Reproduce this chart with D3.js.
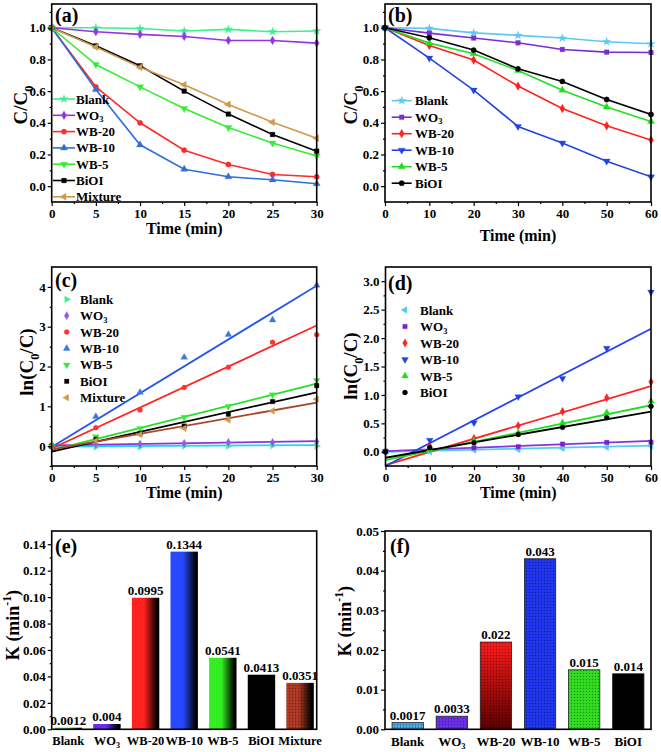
<!DOCTYPE html>
<html><head><meta charset="utf-8">
<script src="https://cdn.jsdelivr.net/npm/d3@7"></script>
<style>
body{margin:0;background:#fff}
text{font-family:"Liberation Serif","Times New Roman",serif;font-weight:bold;fill:#000}
</style>
</head><body>
<svg id="c" width="661" height="752"></svg>
<script>
// ---------- DATA ----------
const seriesAll = ["Blank","WO3","WB-20","WB-10","WB-5","BiOI","Mixture"];
const timeA = [0,5,10,15,20,25,30];
const timeB = [0,10,20,30,40,50,60];
// (a) C/C0 vs time
const a_Blank = [1.0,1.0,0.995,0.98,0.99,0.975,0.98];
const a_WO3   = [1.0,0.975,0.958,0.945,0.92,0.92,0.903];
const a_WB20  = [1.0,0.627,0.40,0.227,0.137,0.074,0.059];
const a_WB10  = [1.0,0.61,0.261,0.107,0.059,0.04,0.015];
const a_WB5   = [1.0,0.768,0.627,0.49,0.37,0.272,0.19];
const a_BiOI  = [1.0,0.886,0.76,0.60,0.455,0.326,0.221];
const a_Mix   = [1.0,0.878,0.75,0.64,0.516,0.404,0.303];
// (b) C/C0 vs time
const b_Blank = [1.0,0.996,0.968,0.952,0.935,0.912,0.899];
const b_WO3   = [1.0,0.966,0.935,0.905,0.863,0.846,0.844];
const b_WB20  = [1.0,0.888,0.796,0.632,0.49,0.381,0.291];
const b_WB10  = [1.0,0.808,0.606,0.377,0.272,0.158,0.059];
const b_WB5   = [1.0,0.903,0.836,0.73,0.606,0.50,0.408];
const b_BiOI  = [1.0,0.937,0.859,0.741,0.661,0.547,0.453];
// (c) ln(C0/C) points
const c_Blank = [0,-0.02,-0.02,0.0,0.0,0.01,0.0];
const c_WO3   = [0,0.05,0.05,0.067,0.093,0.093,0.11];
const c_WB20  = [0,0.463,0.91,1.47,1.98,2.61,2.80];
const c_WB10  = [0,0.74,1.35,2.23,2.80,3.17,4.04];
const c_WB5   = [0,0.236,0.446,0.724,0.994,1.29,1.65];
const c_BiOI  = [0,0.17,0.32,0.505,0.80,1.12,1.52];
const c_Mix   = [0,0.135,0.29,0.446,0.657,0.884,1.18];
// (c) linear fits: intercept, slope
const c_fitIntercept = [-0.01,0.02,-0.06,-0.02,-0.10,-0.14,-0.08];
const c_fitSlope     = [0.0012,0.0035,0.103,0.135,0.0557,0.0497,0.039];
// (d) ln(C0/C) points
const d_Blank = [0,0.0,0.03,0.04,0.06,0.08,0.10];
const d_WO3   = [0.01,0.04,0.07,0.09,0.135,0.165,0.17];
const d_WB20  = [0,0.10,0.235,0.46,0.71,0.95,1.23];
const d_WB10  = [0,0.205,0.51,0.97,1.29,1.82,2.81];
const d_WB5   = [0,0.03,0.19,0.335,0.51,0.69,0.89];
const d_BiOI  = [0,0.07,0.16,0.305,0.43,0.60,0.80];
const d_fitIntercept = [0.0,0.012,-0.235,-0.25,-0.147,-0.105];
const d_fitSlope     = [0.0018,0.003,0.0232,0.0402,0.0161,0.0135];
// (e),(f) rate constants
const e_cats = ["Blank","WO3","WB-20","WB-10","WB-5","BiOI","Mixture"];
const e_vals = [0.0012,0.004,0.0995,0.1344,0.0541,0.0413,0.0351];
const e_labels = ["0.0012","0.004","0.0995","0.1344","0.0541","0.0413","0.0351"];
const f_cats = ["Blank","WO3","WB-20","WB-10","WB-5","BiOI"];
const f_vals = [0.0017,0.0033,0.022,0.043,0.015,0.014];
const f_labels = ["0.0017","0.0033","0.022","0.043","0.015","0.014"];
// tick values
const ticksA_x = [0,5,10,15,20,25,30], ticksA_y = [0,0.2,0.4,0.6,0.8,1.0];
const ticksB_x = [0,10,20,30,40,50,60];
const ticksC_y = [0,1,2,3,4];
const ticksD_y = [0,0.5,1.0,1.5,2.0,2.5,3.0];
const ticksE_y = [0,0.02,0.04,0.06,0.08,0.10,0.12,0.14];
const ticksF_y = [0,0.01,0.02,0.03,0.04,0.05];

// ---------- HELPERS ----------
const svg = d3.select("#c");
svg.append("rect").attr("width",661).attr("height",752).attr("fill","#fff");
const defs = svg.append("defs");

function rich(t, parts, fs, subShift){
  const ss = subShift==null ? 0.3 : subShift;
  let shift = 0;
  parts.forEach(([s,k])=>{
    const sp = t.append("tspan").text(s);
    let target = k==="sub" ? fs*ss : k==="sup" ? -fs*0.42 : 0;
    sp.attr("dy", target - shift); shift = target;
    if (k!=="n") sp.attr("font-size", fs*0.65);
  });
}
function nameParts(n){ return n==="WO3" ? [["WO","n"],["3","sub"]] : [[n,"n"]]; }

const sym = {
  star: d3.symbolStar, diamond: d3.symbolDiamond, circle: d3.symbolCircle,
  tri: d3.symbolTriangle, square: d3.symbolSquare
};
function marker(g, cx, cy, s, color, size){
  g.append("path").attr("d", d3.symbol().type(sym[s.shape]).size(size)())
   .attr("transform",`translate(${cx},${cy}) rotate(${s.rot||0})`)
   .attr("fill", color).attr("stroke", color).attr("stroke-width",0.3);
}

function axes(g, x, y, o){
  const fs = 13;
  g.append("g").attr("transform",`translate(0,${o.b})`)
    .call(d3.axisBottom(x).tickValues(o.xt).tickSize(4).tickPadding(3).tickFormat(o.xf||d3.format("d")));
  if (o.xm) g.append("g").attr("transform",`translate(0,${o.b})`)
    .call(d3.axisBottom(x).tickValues(o.xm).tickSize(2).tickFormat(""));
  g.append("g").attr("transform",`translate(${o.l},0)`)
    .call(d3.axisLeft(y).tickValues(o.yt).tickSize(4).tickPadding(2).tickFormat(o.yf));
  if (o.ym) g.append("g").attr("transform",`translate(${o.l},0)`)
    .call(d3.axisLeft(y).tickValues(o.ym).tickSize(2).tickFormat(""));
  g.selectAll(".domain").remove();
  g.selectAll(".tick line").attr("stroke","#000").attr("stroke-width",1.2);
  g.selectAll(".tick text").attr("font-size",fs).attr("font-family",'"Liberation Serif",serif').attr("font-weight","bold");
  g.append("rect").attr("x",o.l).attr("y",o.t).attr("width",o.r-o.l).attr("height",o.b-o.t)
    .attr("fill","none").attr("stroke","#000").attr("stroke-width",1.6);
  g.append("text").attr("x",o.pl[0]).attr("y",o.pl[1]).attr("font-size",20).text(o.label);
  if (o.xTitle) g.append("text").attr("x",(o.l+o.r)/2).attr("y",o.xTitleY).attr("text-anchor","middle").attr("font-size",16).text(o.xTitle);
  const yt = g.append("text").attr("transform",`translate(${o.yTitleX},${o.yTitleY}) rotate(-90)`).attr("text-anchor","middle").attr("font-size",19);
  rich(yt, o.yTitle, 19);
}

function linePanel(o){
  const g = svg.append("g");
  const x = d3.scaleLinear().domain(o.xd).range([o.l,o.r]);
  const y = d3.scaleLinear().domain(o.yd).range([o.b,o.t]);
  const cid = "clip"+o.label.replace(/\W/g,"");
  defs.append("clipPath").attr("id",cid).append("rect").attr("x",o.l).attr("y",o.t).attr("width",o.r-o.l).attr("height",o.b-o.t);
  const pg = g.append("g").attr("clip-path",`url(#${cid})`);
  o.series.forEach(s=>{
    if (o.fit){
      const ln = d3.line().x(d=>x(d)).y(d=>y(s.b0 + s.b1*d));
      pg.append("path").attr("d", ln([o.xd[0], o.xd[1]])).attr("fill","none").attr("stroke",s.lc||s.c).attr("stroke-width",1.8);
    } else {
      const ln = d3.line().x((d,i)=>x(o.xs[i])).y(d=>y(d));
      pg.append("path").attr("d", ln(s.v)).attr("fill","none").attr("stroke",s.c).attr("stroke-width",1.6);
    }
  });
  o.series.forEach(s=>{
    s.v.forEach((v,i)=> marker(g, x(o.xs[i]), y(v), s, s.c, o.ms));
  });
  axes(g, x, y, o);
  o.series.forEach((s,i)=>{
    const ly = o.leg.y + i*o.leg.dy;
    if (!o.fit){
      g.append("line").attr("x1",o.leg.x1).attr("x2",o.leg.x2).attr("y1",ly).attr("y2",ly).attr("stroke",s.c).attr("stroke-width",1.6);
      marker(g,(o.leg.x1+o.leg.x2)/2, ly, s, s.c, o.ms);
    } else {
      marker(g, o.leg.mx, ly, s, s.c, o.ms);
    }
    const t = g.append("text").attr("x",o.leg.tx).attr("y",ly+4.5).attr("font-size",13);
    rich(t, nameParts(s.n), 13, 0.2);
  });
}

// ---------- PANELS a,b ----------
const f1 = d3.format(".1f");
linePanel({label:"(a)", pl:[55,22], l:51.7, r:316.7, t:4, b:202, xd:[0,30], yd:[-0.1,1.15],
  xs:timeA, xt:ticksA_x, xm:[2.5,7.5,12.5,17.5,22.5,27.5], yt:ticksA_y, ym:[0.1,0.3,0.5,0.7,0.9,1.1], yf:f1,
  xTitle:"Time (min)", xTitleY:234, yTitle:[["C/C","n"],["0","sub"]], yTitleX:27, yTitleY:105, ms:22,
  leg:{x1:53,x2:75,tx:76,y:99,dy:16.3},
  series:[
    {n:"Blank", v:a_Blank, c:"#3df08c", shape:"star"},
    {n:"WO3", v:a_WO3, c:"#9433ea", shape:"diamond"},
    {n:"WB-20", v:a_WB20, c:"#ff2a2a", shape:"circle"},
    {n:"WB-10", v:a_WB10, c:"#2f6fd6", shape:"tri"},
    {n:"WB-5", v:a_WB5, c:"#33ee33", shape:"tri", rot:180},
    {n:"BiOI", v:a_BiOI, c:"#000", shape:"square"},
    {n:"Mixture", v:a_Mix, c:"#cf9a4a", shape:"tri", rot:-90}
  ]});
linePanel({label:"(b)", pl:[388,22], l:385, r:651, t:4, b:202, xd:[0,60], yd:[-0.1,1.15],
  xs:timeB, xt:ticksB_x, xm:[5,15,25,35,45,55], yt:ticksA_y, ym:[0.1,0.3,0.5,0.7,0.9,1.1], yf:f1,
  xTitle:"Time (min)", xTitleY:241, yTitle:[["C/C","n"],["0","sub"]], yTitleX:357, yTitleY:105, ms:22,
  leg:{x1:391.7,x2:411.7,tx:415,y:100.7,dy:16.5},
  series:[
    {n:"Blank", v:b_Blank, c:"#5ec8f5", shape:"star"},
    {n:"WO3", v:b_WO3, c:"#7a2fd0", shape:"square"},
    {n:"WB-20", v:b_WB20, c:"#ff2020", shape:"diamond"},
    {n:"WB-10", v:b_WB10, c:"#2244e0", shape:"tri", rot:180},
    {n:"WB-5", v:b_WB5, c:"#22dd22", shape:"tri"},
    {n:"BiOI", v:b_BiOI, c:"#000", shape:"circle"}
  ]});

// ---------- PANELS c,d ----------
linePanel({label:"(c)", pl:[55,287], fit:true, l:51.7, r:316.7, t:267, b:466, xd:[0,30], yd:[-0.5,4.5],
  xs:timeA, xt:ticksA_x, xm:[2.5,7.5,12.5,17.5,22.5,27.5], yt:ticksC_y, ym:[-0.5,0.5,1.5,2.5,3.5], yf:d3.format("d"),
  xTitle:"Time (min)", xTitleY:498, yTitle:[["ln(C","n"],["0","sub"],["/C)","n"]], yTitleX:33, yTitleY:362, ms:20,
  leg:{mx:66.7,tx:80,y:299.3,dy:16.4},
  series:[
    {n:"Blank", v:c_Blank, c:"#3df08c", lc:"#1fd8f0", shape:"tri", rot:90, b0:c_fitIntercept[0], b1:c_fitSlope[0]},
    {n:"WO3", v:c_WO3, c:"#9a55ee", lc:"#8a33dd", shape:"diamond", b0:c_fitIntercept[1], b1:c_fitSlope[1]},
    {n:"WB-20", v:c_WB20, c:"#ff3333", lc:"#ff2222", shape:"circle", b0:c_fitIntercept[2], b1:c_fitSlope[2]},
    {n:"WB-10", v:c_WB10, c:"#3a78dd", lc:"#2255ee", shape:"tri", b0:c_fitIntercept[3], b1:c_fitSlope[3]},
    {n:"WB-5", v:c_WB5, c:"#33ee33", lc:"#22e022", shape:"tri", rot:180, b0:c_fitIntercept[4], b1:c_fitSlope[4]},
    {n:"BiOI", v:c_BiOI, c:"#000", lc:"#000", shape:"square", b0:c_fitIntercept[5], b1:c_fitSlope[5]},
    {n:"Mixture", v:c_Mix, c:"#cf9a4a", lc:"#a8462a", shape:"tri", rot:-90, b0:c_fitIntercept[6], b1:c_fitSlope[6]}
  ]});
linePanel({label:"(d)", pl:[388,290], fit:true, l:385.5, r:651, t:267, b:466, xd:[0,60], yd:[-0.25,3.25],
  xs:timeB, xt:ticksB_x, xm:[5,15,25,35,45,55], yt:ticksD_y, ym:[0.25,0.75,1.25,1.75,2.25,2.75], yf:f1,
  xTitle:"Time (min)", xTitleY:498, yTitle:[["ln(C","n"],["0","sub"],["/C)","n"]], yTitleX:357, yTitleY:366, ms:20,
  leg:{mx:405,tx:420,y:310,dy:16.5},
  series:[
    {n:"Blank", v:d_Blank, c:"#55c8f0", lc:"#55ccf5", shape:"tri", rot:-90, b0:d_fitIntercept[0], b1:d_fitSlope[0]},
    {n:"WO3", v:d_WO3, c:"#7722cc", lc:"#8833dd", shape:"square", b0:d_fitIntercept[1], b1:d_fitSlope[1]},
    {n:"WB-20", v:d_WB20, c:"#ff2222", lc:"#ff2222", shape:"diamond", b0:d_fitIntercept[2], b1:d_fitSlope[2]},
    {n:"WB-10", v:d_WB10, c:"#2244dd", lc:"#2244ee", shape:"tri", rot:180, b0:d_fitIntercept[3], b1:d_fitSlope[3]},
    {n:"WB-5", v:d_WB5, c:"#22dd22", lc:"#22dd22", shape:"tri", b0:d_fitIntercept[4], b1:d_fitSlope[4]},
    {n:"BiOI", v:d_BiOI, c:"#000", lc:"#000", shape:"circle", b0:d_fitIntercept[5], b1:d_fitSlope[5]}
  ]});

// ---------- BAR PANELS ----------
const pat = defs.append("pattern").attr("id","dots").attr("width",3).attr("height",3).attr("patternUnits","userSpaceOnUse");
pat.append("circle").attr("cx",1.5).attr("cy",1.5).attr("r",0.7).attr("fill","#000").attr("opacity",0.35);

function barPanel(o){
  const g = svg.append("g");
  const x = d3.scaleBand().domain(o.cats).range([o.l,o.r]).paddingInner(0.29).paddingOuter(o.po);
  const y = d3.scaleLinear().domain(o.yd).range([o.b,o.t]);
  o.cats.forEach((c,i)=>{
    const id = o.id+i;
    const gr = defs.append("linearGradient").attr("id",id);
    if (o.grad[i]==="v"){ gr.attr("x1",0).attr("x2",0).attr("y1",0).attr("y2",1); }
    o.stops[i].forEach(([off,col])=> gr.append("stop").attr("offset",off).attr("stop-color",col));
    const bx = x(c), bw = x.bandwidth(), by = y(o.vals[i]), bh = y(0)-y(o.vals[i]);
    g.append("rect").attr("x",bx).attr("y",by).attr("width",bw).attr("height",bh).attr("fill",`url(#${id})`);
    if (o.tex[i]) g.append("rect").attr("x",bx).attr("y",by).attr("width",bw).attr("height",bh).attr("fill","url(#dots)");
    if (o.border) g.append("rect").attr("x",bx).attr("y",by).attr("width",bw).attr("height",bh).attr("fill","none").attr("stroke","#222").attr("stroke-width",0.8);
    g.append("text").attr("x",bx+bw/2).attr("y",by-3).attr("text-anchor","middle").attr("font-size",13).text(o.labels[i]);
    const t = g.append("text").attr("x",bx+bw/2).attr("y",o.catY).attr("text-anchor","middle").attr("font-size",o.catFs);
    rich(t, nameParts(c), o.catFs, 0.25);
  });
  g.append("g").attr("transform",`translate(${o.l},0)`)
    .call(d3.axisLeft(y).tickValues(o.yt).tickSize(4).tickPadding(2).tickFormat(d3.format(".2f")));
  g.append("g").attr("transform",`translate(${o.l},0)`)
    .call(d3.axisLeft(y).tickValues(o.ym).tickSize(2).tickFormat(""));
  g.selectAll(".domain").remove();
  g.selectAll(".tick line").attr("stroke","#000").attr("stroke-width",1.2);
  g.selectAll(".tick text").attr("font-size",13).attr("font-family",'"Liberation Serif",serif').attr("font-weight","bold");
  g.append("rect").attr("x",o.l).attr("y",o.t).attr("width",o.r-o.l).attr("height",o.b-o.t)
    .attr("fill","none").attr("stroke","#000").attr("stroke-width",1.6);
  g.append("text").attr("x",o.pl[0]).attr("y",o.pl[1]).attr("font-size",20).text(o.label);
  const yt = g.append("text").attr("transform",`translate(${o.yTitleX},${o.yTitleY}) rotate(-90)`).attr("text-anchor","middle").attr("font-size",18);
  rich(yt, [["K (min","n"],["-1","sup"],[")","n"]], 18);
}
const hg = (c)=>[[0,c],[0.45,c],[0.92,"#000"]];
barPanel({id:"ge", label:"(e)", pl:[55,553], l:51.7, r:316.7, t:531, b:729.3, yd:[0,0.15], po:0.075,
  cats:e_cats, vals:e_vals, labels:e_labels, yt:ticksE_y, ym:[0.01,0.03,0.05,0.07,0.09,0.11,0.13],
  catY:745, catFs:12.5, yTitleX:19, yTitleY:625,
  grad:["h","h","h","h","h","h","h"],
  stops:[hg("#2fbf5a"),hg("#6a2cf0"),hg("#ff2020"),hg("#2848ff"),hg("#33ee22"),[[0,"#000"],[1,"#000"]],hg("#b03a25")],
  tex:[false,false,false,false,false,false,true]});
barPanel({id:"gf", label:"(f)", pl:[390,553], l:385, r:651, t:531, b:729.3, yd:[0,0.05], po:0.16, border:true,
  cats:f_cats, vals:f_vals, labels:f_labels, yt:ticksF_y, ym:[0.005,0.015,0.025,0.035,0.045],
  catY:746, catFs:13, yTitleX:351, yTitleY:621,
  grad:["h","h","v","h","h","h"],
  stops:[[[0,"#4aa8e0"],[1,"#4aa8e0"]],[[0,"#6a30e8"],[1,"#6a30e8"]],[[0,"#ff1a1a"],[1,"#5a0000"]],
         [[0,"#2035ee"],[1,"#2035ee"]],[[0,"#33dd22"],[1,"#33dd22"]],[[0,"#000"],[1,"#000"]]],
  tex:[true,true,true,true,true,false]});
</script>
</body></html>
